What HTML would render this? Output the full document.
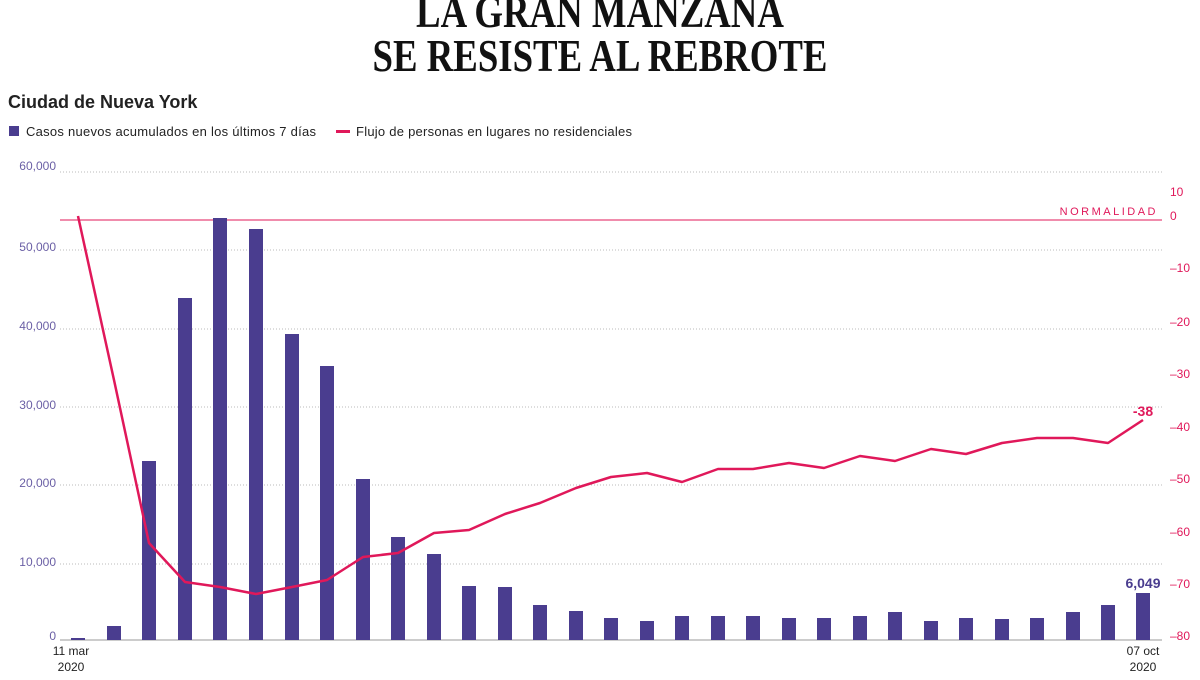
<!DOCTYPE html>
<html><head><meta charset="utf-8"><style>
body{margin:0;width:1200px;height:675px;background:#fff;overflow:hidden;font-family:"Liberation Sans",sans-serif}
</style></head><body>
<svg width="1200" height="675" xmlns="http://www.w3.org/2000/svg">
<g font-family="Liberation Serif" font-weight="bold" font-size="46" text-anchor="middle" fill="#111">
<text transform="translate(600,27) scale(0.8,1)">LA GRAN MANZANA</text>
<text transform="translate(600,71) scale(0.8,1)">SE RESISTE AL REBROTE</text>
</g>
<text x="8" y="108" font-size="18" font-weight="bold" fill="#222">Ciudad de  Nueva York</text>
<rect x="9" y="126" width="10" height="10" fill="#4a3d8f"/>
<text x="26" y="136" font-size="13" fill="#222" textLength="290">Casos nuevos acumulados en los últimos 7 días</text>
<rect x="336" y="130" width="14" height="3" fill="#e0185a"/>
<text x="356" y="136" font-size="13" fill="#222" textLength="276">Flujo de personas en lugares no residenciales</text>
<g stroke="#bbb" stroke-dasharray="1,2" stroke-width="1">
<line x1="60" x2="1162" y1="172" y2="172"/><line x1="60" x2="1162" y1="250" y2="250"/><line x1="60" x2="1162" y1="329" y2="329"/><line x1="60" x2="1162" y1="407" y2="407"/><line x1="60" x2="1162" y1="485" y2="485"/><line x1="60" x2="1162" y1="564" y2="564"/>
</g>
<line x1="60" x2="1162" y1="640" y2="640" stroke="#999"/>
<line x1="60" x2="1162" y1="220" y2="220" stroke="#e0185a" stroke-width="1"/>
<text x="1158" y="215" font-size="11" fill="#e0185a" text-anchor="end" letter-spacing="2.5">NORMALIDAD</text>
<g font-size="12" fill="#6a5fa5" text-anchor="end">
<text x="56" y="170">60,000</text><text x="56" y="251">50,000</text><text x="56" y="330">40,000</text><text x="56" y="409">30,000</text><text x="56" y="487">20,000</text><text x="56" y="566">10,000</text><text x="56" y="640">0</text>
</g>
<g font-size="12" fill="#e0185a">
<text x="1170" y="196">10</text><text x="1170" y="220">0</text><text x="1170" y="272">–10</text><text x="1170" y="326">–20</text><text x="1170" y="378">–30</text><text x="1170" y="431">–40</text><text x="1170" y="483">–50</text><text x="1170" y="536">–60</text><text x="1170" y="588">–70</text><text x="1170" y="640">–80</text>
</g>
<g fill="#4a3d8f">
<rect x="71" y="638" width="14" height="2"/>
<rect x="107" y="626" width="14" height="14"/>
<rect x="142" y="461" width="14" height="179"/>
<rect x="178" y="298" width="14" height="342"/>
<rect x="213" y="218" width="14" height="422"/>
<rect x="249" y="229" width="14" height="411"/>
<rect x="285" y="334" width="14" height="306"/>
<rect x="320" y="366" width="14" height="274"/>
<rect x="356" y="479" width="14" height="161"/>
<rect x="391" y="537" width="14" height="103"/>
<rect x="427" y="554" width="14" height="86"/>
<rect x="462" y="586" width="14" height="54"/>
<rect x="498" y="587" width="14" height="53"/>
<rect x="533" y="605" width="14" height="35"/>
<rect x="569" y="611" width="14" height="29"/>
<rect x="604" y="618" width="14" height="22"/>
<rect x="640" y="621" width="14" height="19"/>
<rect x="675" y="616" width="14" height="24"/>
<rect x="711" y="616" width="14" height="24"/>
<rect x="746" y="616" width="14" height="24"/>
<rect x="782" y="618" width="14" height="22"/>
<rect x="817" y="618" width="14" height="22"/>
<rect x="853" y="616" width="14" height="24"/>
<rect x="888" y="612" width="14" height="28"/>
<rect x="924" y="621" width="14" height="19"/>
<rect x="959" y="618" width="14" height="22"/>
<rect x="995" y="619" width="14" height="21"/>
<rect x="1030" y="618" width="14" height="22"/>
<rect x="1066" y="612" width="14" height="28"/>
<rect x="1101" y="605" width="14" height="35"/>
<rect x="1136" y="593" width="14" height="47"/>
</g>
<polyline fill="none" stroke="#e0185a" stroke-width="2.5" stroke-linejoin="round" points="78,216 114,380 149,543 185,582 220,587 256,594 292,587 327,580 363,557 398,553 434,533 469,530 505,514 540,503 576,488 611,477 647,473 682,482 718,469 753,469 789,463 824,468 860,456 895,461 931,449 966,454 1002,443 1037,438 1073,438 1108,443 1143,420"/>
<text x="1143" y="588" font-size="14" font-weight="bold" fill="#4a3d8f" text-anchor="middle">6,049</text>
<text x="1143" y="416" font-size="14" font-weight="bold" fill="#e0185a" text-anchor="middle">-38</text>
<g font-size="12" fill="#222" text-anchor="middle">
<text x="71" y="655">11 mar</text><text x="71" y="671">2020</text>
<text x="1143" y="655">07 oct</text><text x="1143" y="671">2020</text>
</g>
</svg>
</body></html>
